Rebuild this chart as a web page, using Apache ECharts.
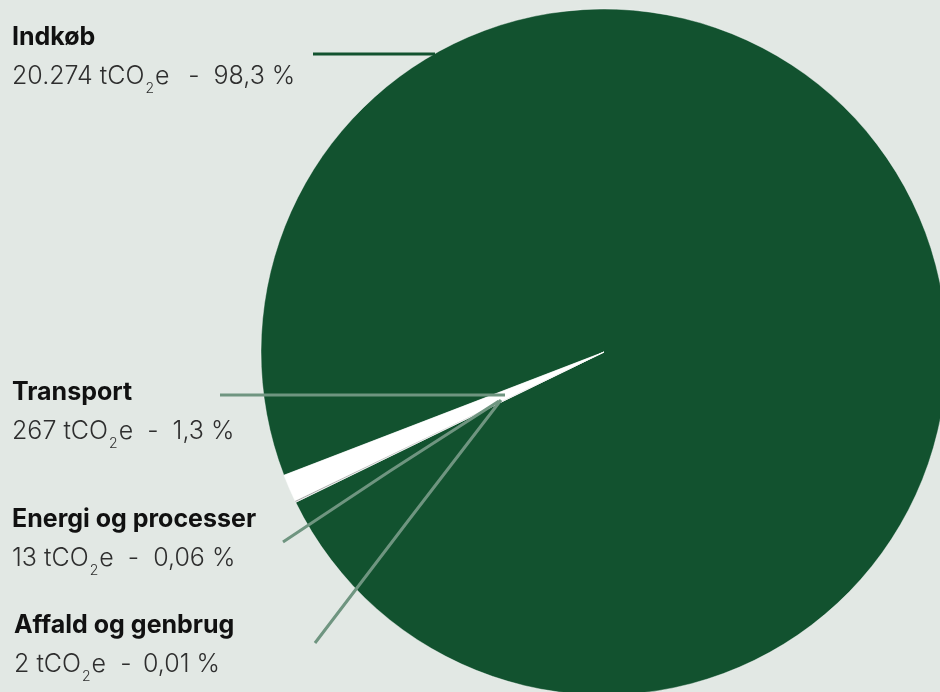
<!DOCTYPE html>
<html>
<head>
<meta charset="utf-8">
<script src="https://cdn.jsdelivr.net/npm/echarts@6/dist/echarts.min.js"></script>
<style>
  html, body { margin: 0; padding: 0; background: #e2e8e4; }
  #chart { width: 940px; height: 692px; }
</style>
</head>
<body>
<div id="chart"></div>
<script>
// --- Data ---
const categories = ['Indkøb', 'Transport', 'Energi og processer', 'Affald og genbrug'];
const emissions = [20274, 267, 13, 2];            // tCO2e
const emissionLabels = ['20.274', '267', '13', '2'];
const shareLabels = ['98,3 %', '1,3 %', '0,06 %', '0,01 %'];
const separators = ['  \u2009-  ', '  -  ', '  -  ', '  - \u2009'];
const sliceColors = ['#12522f', '#ffffff', '#8f8f8f', '#ffffff'];

// label placement (label box top-left) and leader lines
const labelPos = [[12, 18], [12, 373], [12, 500], [14, 606]];
const linePoints = [
    [[435, 54], [374, 54], [313, 54]],
    [[505, 395], [360, 395], [220, 395]],
    [[499, 401], [390, 471], [283, 542]],
    [[501, 400], [408, 521], [315, 643]]
];
const lineColors = ['#12522f', '#6f9580', '#6f9580', '#6f9580'];

const chart = echarts.init(document.getElementById('chart'));

const pieBase = {
    type: 'pie',
    center: [604, 352],
    radius: 343,
    startAngle: 206,
    clockwise: false,
    avoidLabelOverlap: false,
    silent: true
};

chart.setOption({
    backgroundColor: '#e2e8e4',
    animation: false,
    series: [
        // slices
        Object.assign({}, pieBase, {
            z: 2,
            itemStyle: { borderColor: '#ffffff', borderWidth: 0.4 },
            label: { show: false },
            labelLine: { show: false },
            data: categories.map((name, i) => ({
                name: name,
                value: emissions[i],
                itemStyle: { color: sliceColors[i] }
            }))
        }),
        // labels + leader lines on top of the slices
        Object.assign({}, pieBase, {
            z: 5,
            itemStyle: { color: 'rgba(0,0,0,0)', borderWidth: 0 },
            label: {
                show: true,
                position: 'outside',
                formatter: p => {
                    const i = p.dataIndex;
                    return '{b|' + categories[i] + '}\n{v|' + emissionLabels[i] + ' tCO}{s|2}{v|e' + separators[i] + shareLabels[i] + '}';
                },
                rich: {
                    b: { fontFamily: 'Inter', fontSize: 25, fontWeight: 'bold', color: '#111111', lineHeight: 39 },
                    v: { fontFamily: 'Inter', fontSize: 25, fontWeight: 300, color: '#2e2e2e', lineHeight: 39 },
                    s: { fontFamily: 'Inter', fontSize: 14, fontWeight: 300, color: '#2e2e2e', lineHeight: 14, padding: [24, 1, 0, 1] }
                }
            },
            labelLine: { show: true, smooth: false, lineStyle: { width: 3 } },
            labelLayout: params => {
                const i = params.dataIndex;
                return {
                    x: labelPos[i][0],
                    y: labelPos[i][1],
                    align: 'left',
                    verticalAlign: 'top',
                    labelLinePoints: linePoints[i]
                };
            },
            data: categories.map((name, i) => ({
                name: name,
                value: emissions[i],
                labelLine: { lineStyle: { color: lineColors[i], width: 3 } }
            }))
        })
    ]
});
</script>
</body>
</html>
